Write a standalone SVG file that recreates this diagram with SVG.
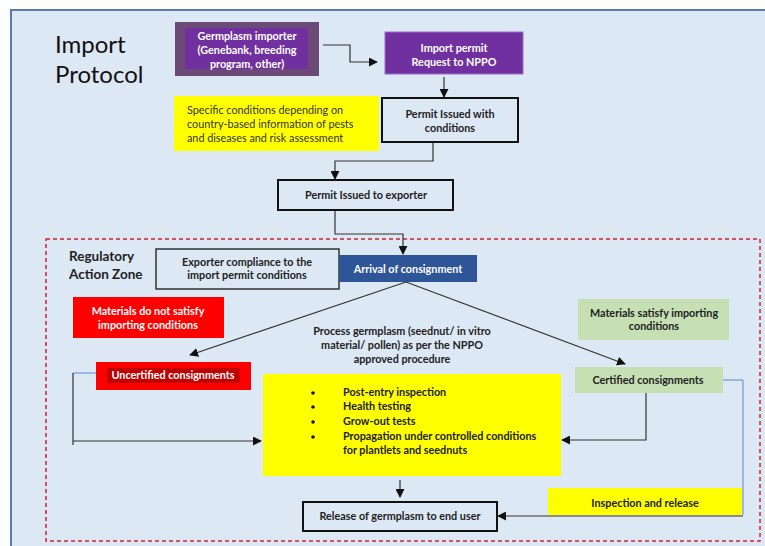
<svg xmlns="http://www.w3.org/2000/svg" width="765" height="546" viewBox="0 0 765 546">
<style>
text{font-family:Lato,"Liberation Sans",sans-serif;font-weight:bold;font-size:10.8px;fill:#222;}
.w{fill:#fff;}
.c{text-anchor:middle;}
.ln{fill:none;stroke:#333;stroke-width:1.2;}
.blue{fill:none;stroke:#5b86d0;stroke-width:1;}
.box{fill:#dde8f5;stroke:#111;stroke-width:2;}
</style>
<defs>
<marker id="ah" viewBox="0 0 10 10" refX="9" refY="5" markerWidth="9" markerHeight="9" markerUnits="userSpaceOnUse" orient="auto">
<path d="M0,0 L10,5 L0,10 z" fill="#111"/>
</marker>
</defs>
<rect x="0" y="0" width="765" height="546" fill="#fff"/>
<rect x="11" y="10" width="760" height="545" fill="#dde8f5" stroke="#5a79b0" stroke-width="2"/>
<g id="title">
<text x="55" y="53" style="font-size:24px;font-weight:normal;fill:#111">Import</text>
<text x="55" y="83" style="font-size:24px;font-weight:normal;fill:#111">Protocol</text>
</g>
<rect id="zone" x="46" y="239" width="714" height="302" fill="none" stroke="#d0202e" stroke-width="1.5" stroke-dasharray="4,3"/>
<g id="zone-label">
<text x="69" y="261" style="font-size:13.5px">Regulatory</text>
<text x="69" y="279" style="font-size:13.5px">Action Zone</text>
</g>
<g id="connectors">
<path class="ln" d="M323,45 H350 V62 H377" marker-end="url(#ah)"/>
<path class="ln" d="M444,77 V97" marker-end="url(#ah)"/>
<path class="ln" d="M433,143 V161 H335 V179" marker-end="url(#ah)"/>
<path class="ln" d="M335,211 V234 H403 V254" marker-end="url(#ah)"/>
<path class="ln" d="M406,282 L190,355" marker-end="url(#ah)"/>
<path class="ln" d="M406,282 L625,364" marker-end="url(#ah)"/>
<path class="blue" d="M96,373 H73"/>
<path class="ln" d="M73,373 V445 M73,441 H261" marker-end="url(#ah)"/>
<path class="ln" d="M646,393 V440 H562" marker-end="url(#ah)"/>
<path class="blue" d="M723,380 H743 V515"/>
<path class="ln" d="M743,516 H498" marker-end="url(#ah)"/>
<path class="ln" d="M400,480 V497" marker-end="url(#ah)"/>
</g>
<g id="germplasm-importer">
<rect x="175" y="22" width="144" height="54" fill="#6b4a78"/>
<rect x="185" y="28" width="123" height="41" fill="#7030a0"/>
<text class="w c" x="247" y="40">Germplasm importer</text>
<text class="w c" x="247" y="54">(Genebank, breeding</text>
<text class="w c" x="247" y="68">program, other)</text>
</g>
<g id="import-permit">
<rect x="385" y="32" width="138" height="42" fill="#7030a0" stroke="#9b6cc8" stroke-width="1"/>
<text class="w c" x="454" y="52">Import permit</text>
<text class="w c" x="454" y="66">Request to NPPO</text>
</g>
<g id="permit-conditions">
<rect class="box" x="382" y="98" width="136" height="44"/>
<text class="c" x="450" y="118">Permit Issued with</text>
<text class="c" x="450" y="132">conditions</text>
</g>
<g id="specific-conditions">
<rect x="174" y="96" width="205" height="55" fill="#ffff00"/>
<text x="187" y="114" style="font-weight:normal;fill:#333">Specific conditions depending on</text>
<text x="187" y="128" style="font-weight:normal;fill:#333">country-based information of pests</text>
<text x="187" y="142" style="font-weight:normal;fill:#333">and diseases and risk assessment</text>
</g>
<g id="permit-exporter">
<rect class="box" x="278" y="180" width="175" height="30"/>
<text class="c" x="366" y="199">Permit Issued to exporter</text>
</g>
<g id="exporter-compliance">
<rect x="156" y="249" width="183" height="40" fill="#dde8f5" stroke="#333" stroke-width="1.5"/>
<text class="c" x="247" y="266">Exporter compliance to the</text>
<text class="c" x="247" y="279">import permit conditions</text>
</g>
<g id="arrival">
<rect x="339" y="255" width="138" height="27" fill="#2e5597"/>
<text class="w c" x="408" y="273">Arrival of consignment</text>
</g>
<g id="not-satisfy">
<rect x="73" y="297" width="151" height="41" fill="#ff0000"/>
<text class="w c" x="148" y="315">Materials do not satisfy</text>
<text class="w c" x="148" y="329">importing conditions</text>
</g>
<g id="process-label">
<text class="c" x="402" y="335">Process germplasm (seednut/ in vitro</text>
<text class="c" x="402" y="349">material/ pollen) as per the NPPO</text>
<text class="c" x="402" y="363">approved procedure</text>
</g>
<g id="satisfy">
<rect x="578" y="299" width="151" height="41" fill="#c6e0b4"/>
<text class="c" x="654" y="317">Materials satisfy importing</text>
<text class="c" x="654" y="330">conditions</text>
</g>
<g id="uncertified">
<rect x="96" y="362" width="155" height="28" fill="#ff0000"/>
<rect x="107" y="368" width="133" height="15" fill="#c00000"/>
<text class="w c" x="173" y="379">Uncertified consignments</text>
</g>
<g id="testing">
<rect x="263" y="374" width="298" height="102" fill="#ffff00"/>
<g style="fill:#111">
<circle cx="313" cy="393" r="1.8"/>
<circle cx="313" cy="407" r="1.8"/>
<circle cx="313" cy="422" r="1.8"/>
<circle cx="313" cy="437" r="1.8"/>
</g>
<text x="343" y="396">Post-entry inspection</text>
<text x="343" y="410">Health testing</text>
<text x="343" y="425">Grow-out tests</text>
<text x="343" y="440">Propagation under controlled conditions</text>
<text x="343" y="454">for plantlets and seednuts</text>
</g>
<g id="certified">
<rect x="575" y="367" width="148" height="26" fill="#c6e0b4"/>
<text class="c" x="648" y="384">Certified consignments</text>
</g>
<g id="inspection-release">
<rect x="548" y="488" width="194" height="27" fill="#ffff00"/>
<text class="c" x="645" y="507">Inspection and release</text>
</g>
<g id="release">
<rect class="box" x="303" y="502" width="194" height="29"/>
<text class="c" x="400" y="520">Release of germplasm to end user</text>
</g>
</svg>
